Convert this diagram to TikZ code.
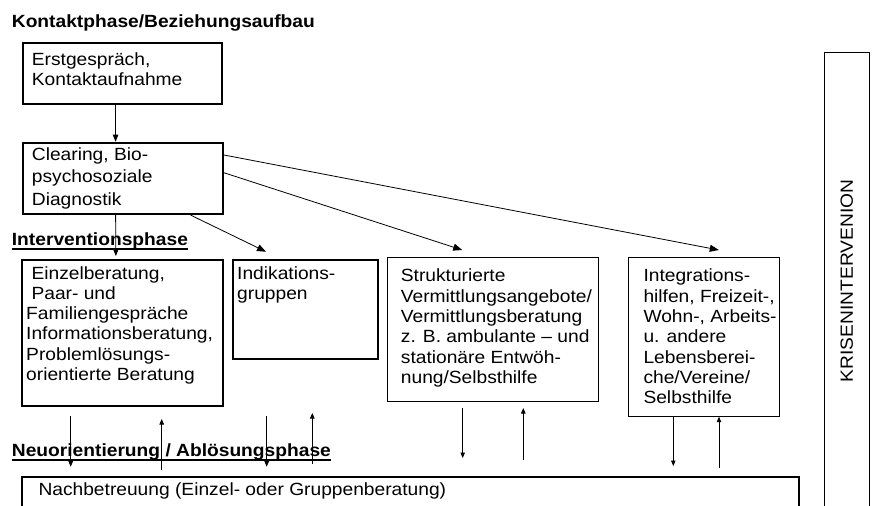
\documentclass[tikz,border=0pt]{standalone}
\usepackage{fontspec}
\setmainfont{Liberation Sans}
\usetikzlibrary{arrows.meta}

\newcommand{\lines}[1]{\begin{tabular}[t]{@{}l@{}}#1\end{tabular}}

\tikzset{
  box/.style={draw, line width=1.8pt, inner sep=0pt, anchor=north west},
  thinbox/.style={draw, line width=0.9pt, inner sep=0pt, anchor=north west},
  txt/.style={anchor=base west, inner sep=0pt, yscale=0.92,
    font=\fontsize{19.2}{22.1}\selectfont},
  head/.style={txt, font=\fontsize{19.2}{22.1}\selectfont\bfseries},
  ul/.style={line width=1.8pt},
  arr/.style={line width=0.8pt, -{Triangle[length=9pt,width=7pt]}},
  arrsm/.style={line width=0.8pt, -{Triangle[length=7pt,width=5.5pt]}},
  arrvt/.style={line width=0.8pt, -{Triangle[length=5.5pt,width=4.5pt]}}
}

\begin{document}
\begin{tikzpicture}[x=1pt, y=-1pt]
  \useasboundingbox (0,0) rectangle (876,506);

  % boxes
  \node[box, minimum width=199, minimum height=61] (erst) at (22,42) {};
  \node[box, minimum width=200, minimum height=71.6] (clear) at (21.7,141.7) {};
  \node[box, minimum width=201, minimum height=146] (einzel) at (21,259) {};
  \node[box, minimum width=145, minimum height=99] (indik) at (231.7,259) {};
  \node[thinbox, minimum width=211, minimum height=143.7] (strukt) at (387.3,257.3) {};
  \node[thinbox, minimum width=150.7, minimum height=158.4] (integ) at (628.3,257.3) {};
  \node[box, minimum width=777.3, minimum height=50] (nach) at (21,475.7) {};
  \node[thinbox, minimum width=45, minimum height=478] (krise) at (823.5,52) {};

  % headings
  \node[head] (kphase) at (11.7,27.3) {Kontaktphase/Beziehungsaufbau};
  \node[head] (iphase) at (11.7,245) {Interventionsphase};
  \node[head] (nphase) at (11.7,456) {Neuorientierung / Ablösungsphase};
  \draw[ul] ([yshift=-4.2pt]iphase.base west) -- ([yshift=-4.2pt]iphase.base east);
  \draw[ul] ([yshift=-3.6pt]nphase.base west) -- ([yshift=-3.6pt]nphase.base east);

  % texts
  \node[txt] (erstT) at (31.7,65) {\lines{Erstgespräch,\\ Kontaktaufnahme}};
  \node[txt, font=\fontsize{19.2}{24.1}\selectfont] (clearT) at (31.7,160.7)
    {\lines{Clearing, Bio-\\ psychosoziale\\ Diagnostik}};
  \node[txt] (einzelT) at (26,279) {\lines{~Einzelberatung,\\ ~Paar- und\\
    Familiengespräche\\ Informationsberatung,\\ Problemlösungs-\\ orientierte Beratung}};
  \node[txt] (indikT) at (237,279) {\lines{Indikations-\\ gruppen}};
  \node[txt] (struktT) at (400.7,281.8) {\lines{Strukturierte\\ Vermittlungsangebote/\\
    Vermittlungsberatung\\ z. B. ambulante -- und\\ stationäre Entwöh-\\ nung/Selbsthilfe}};
  \node[txt] (integT) at (643.3,281.8) {\lines{Integrations-\\ hilfen, Freizeit-,\\
    Wohn-, Arbeits-\\ u. andere\\ Lebensberei-\\ che/Vereine/\\ Selbsthilfe}};
  \node[txt] (nachT) at (38.3,495.7) {Nachbetreuung (Einzel- oder Gruppenberatung)};
  \node[rotate=90, txt, anchor=center] (kriseT) at (846.7,281) {KRISENINTERVENION};

  % connectors
  \draw[arrsm] ([xshift=-7pt]erst.south) -- ([xshift=-7pt]clear.north);
  \draw[arrsm] ([xshift=-7pt]clear.south) -- ([xshift=-6.5pt,yshift=3pt]einzel.north);
  \draw[arr] ([xshift=68pt]clear.south) -- ([xshift=34.3pt,yshift=7.3pt]indik.north west);
  \draw[arr] ([yshift=5.8pt]clear.east) -- ([xshift=-31pt,yshift=7.3pt]strukt.north);
  \draw[arr] ([yshift=23.5pt]clear.east) -- ([xshift=14.7pt,yshift=7.3pt]integ.north);

  % up and down to Nachbetreuung
  \foreach \i/\x/\ys/\ye in {1/70.7/416/466.7, 2/161.7/470/419, 3/266.7/416/466.7,
      4/312.3/464/413, 5/462.7/407.7/458, 6/523.3/460/408,
      7/673.3/416.7/466, 8/719/468/416.7} {
    \coordinate (v\i s) at (\x,\ys);
    \coordinate (v\i e) at (\x,\ye);
    \draw[arrvt] (v\i s) -- (v\i e);
  }
\end{tikzpicture}
\end{document}
